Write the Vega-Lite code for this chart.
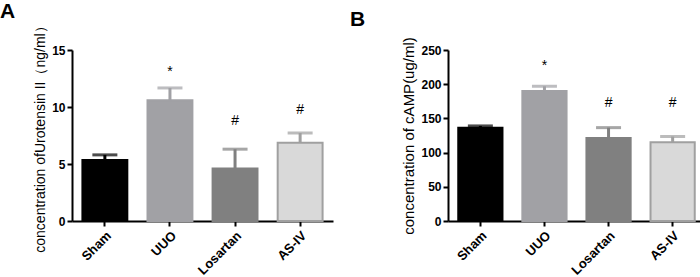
{
  "$schema": "https://vega.github.io/schema/vega-lite/v6.json",
  "background": "white",
  "padding": {"left": 0, "top": 0, "right": 0, "bottom": 0},
  "spacing": 17,
  "datasets": {
    "A": [
      {"group": "Sham", "value": 5.35, "upper": 5.8, "sig": "", "sigY": 0},
      {"group": "UUO", "value": 10.6, "upper": 11.67, "sig": "*", "sigY": 13.1},
      {"group": "Losartan", "value": 4.6, "upper": 6.3, "sig": "#", "sigY": 8.8},
      {"group": "AS-IV", "value": 6.87, "upper": 7.72, "sig": "#", "sigY": 9.7}
    ],
    "B": [
      {"group": "Sham", "value": 136.5, "upper": 139, "sig": "", "sigY": 0},
      {"group": "UUO", "value": 190, "upper": 197, "sig": "*", "sigY": 226},
      {"group": "Losartan", "value": 121.5, "upper": 136.5, "sig": "#", "sigY": 173},
      {"group": "AS-IV", "value": 115, "upper": 123.5, "sig": "#", "sigY": 173}
    ]
  },
  "hconcat": [
    {
      "width": 261,
      "height": 171,
      "title": {"text": "A", "anchor": "start", "frame": "group", "dx": -72, "fontSize": 21, "fontWeight": "bold", "font": "Liberation Sans", "offset": -3, "color": "black"},
      "data": {"name": "A"},
      "encoding": {
        "x": {"field": "group", "type": "nominal", "sort": null, "title": null,
              "scale": {"paddingInner": 0.31, "paddingOuter": 0.16},
              "axis": {"labelAngle": -45, "labelAlign": "right", "labelBaseline": "top", "labelFontSize": 13, "labelPadding": 3}}
      },
      "layer": [
        {
          "mark": {"type": "bar", "strokeWidth": 2},
          "encoding": {
            "y": {"field": "value", "type": "quantitative", "scale": {"domain": [0, 15], "nice": false},
                  "axis": {"values": [0, 5, 10, 15], "labelOverlap": false, "title": "concentration ofUrotensin II（ng/ml）", "titleFontSize": 14}},
            "fill": {"field": "group", "type": "nominal", "sort": null, "legend": null,
                     "scale": {"domain": ["Sham", "UUO", "Losartan", "AS-IV"], "range": ["#000000", "#a1a1a5", "#808080", "#d9d9d9"]}},
            "stroke": {"field": "group", "type": "nominal", "sort": null, "legend": null,
                       "scale": {"domain": ["Sham", "UUO", "Losartan", "AS-IV"], "range": ["#000000", "#a1a1a5", "#808080", "#a0a0a0"]}}
          }
        },
        {
          "mark": {"type": "rule", "strokeWidth": 3},
          "encoding": {
            "y": {"field": "value", "type": "quantitative",
                  "axis": {"values": [0, 5, 10, 15], "labelOverlap": false, "title": "concentration ofUrotensin II（ng/ml）", "titleFontSize": 14}},
            "y2": {"field": "upper"},
            "stroke": {"field": "group", "type": "nominal", "sort": null, "legend": null}
          }
        },
        {
          "mark": {"type": "tick", "thickness": 3, "size": 25},
          "encoding": {
            "y": {"field": "upper", "type": "quantitative",
                  "axis": {"values": [0, 5, 10, 15], "labelOverlap": false, "title": "concentration ofUrotensin II（ng/ml）", "titleFontSize": 14}},
            "fill": {"field": "group", "type": "nominal", "sort": null, "legend": null,
                     "scale": {"domain": ["Sham", "UUO", "Losartan", "AS-IV"], "range": ["#000000", "#a1a1a5", "#808080", "#a0a0a0"]}}
          }
        },
        {
          "mark": {"type": "text", "fontSize": 14, "font": "Liberation Sans", "color": "black", "baseline": "middle"},
          "encoding": {
            "y": {"field": "sigY", "type": "quantitative",
                  "axis": {"values": [0, 5, 10, 15], "labelOverlap": false, "title": "concentration ofUrotensin II（ng/ml）", "titleFontSize": 14}},
            "text": {"field": "sig"}
          }
        }
      ],
      "resolve": {"scale": {"fill": "independent"}}
    },
    {
      "width": 257,
      "height": 171,
      "title": {"text": "B", "anchor": "start", "frame": "group", "dx": -98, "fontSize": 21, "fontWeight": "bold", "font": "Liberation Sans", "offset": 7, "color": "black"},
      "data": {"name": "B"},
      "encoding": {
        "x": {"field": "group", "type": "nominal", "sort": null, "title": null,
              "scale": {"paddingInner": 0.31, "paddingOuter": 0.16},
              "axis": {"labelAngle": -45, "labelAlign": "right", "labelBaseline": "top", "labelFontSize": 13, "labelPadding": 3}}
      },
      "layer": [
        {
          "mark": {"type": "bar", "strokeWidth": 2},
          "encoding": {
            "y": {"field": "value", "type": "quantitative", "scale": {"domain": [0, 250], "nice": false},
                  "axis": {"values": [0, 50, 100, 150, 200, 250], "labelOverlap": false, "title": "concentration of cAMP(ug/ml)", "titleFontSize": 15}},
            "fill": {"field": "group", "type": "nominal", "sort": null, "legend": null,
                     "scale": {"domain": ["Sham", "UUO", "Losartan", "AS-IV"], "range": ["#000000", "#a1a1a5", "#808080", "#d9d9d9"]}},
            "stroke": {"field": "group", "type": "nominal", "sort": null, "legend": null,
                       "scale": {"domain": ["Sham", "UUO", "Losartan", "AS-IV"], "range": ["#000000", "#a1a1a5", "#808080", "#a0a0a0"]}}
          }
        },
        {
          "mark": {"type": "rule", "strokeWidth": 3},
          "encoding": {
            "y": {"field": "value", "type": "quantitative",
                  "axis": {"values": [0, 50, 100, 150, 200, 250], "labelOverlap": false, "title": "concentration of cAMP(ug/ml)", "titleFontSize": 15}},
            "y2": {"field": "upper"},
            "stroke": {"field": "group", "type": "nominal", "sort": null, "legend": null}
          }
        },
        {
          "mark": {"type": "tick", "thickness": 3, "size": 25},
          "encoding": {
            "y": {"field": "upper", "type": "quantitative",
                  "axis": {"values": [0, 50, 100, 150, 200, 250], "labelOverlap": false, "title": "concentration of cAMP(ug/ml)", "titleFontSize": 15}},
            "fill": {"field": "group", "type": "nominal", "sort": null, "legend": null,
                     "scale": {"domain": ["Sham", "UUO", "Losartan", "AS-IV"], "range": ["#000000", "#a1a1a5", "#808080", "#a0a0a0"]}}
          }
        },
        {
          "mark": {"type": "text", "fontSize": 14, "font": "Liberation Sans", "color": "black", "baseline": "middle"},
          "encoding": {
            "y": {"field": "sigY", "type": "quantitative",
                  "axis": {"values": [0, 50, 100, 150, 200, 250], "labelOverlap": false, "title": "concentration of cAMP(ug/ml)", "titleFontSize": 15}},
            "text": {"field": "sig"}
          }
        }
      ],
      "resolve": {"scale": {"fill": "independent"}}
    }
  ],
  "config": {
    "view": {"stroke": null},
    "axis": {
      "grid": false,
      "domainColor": "black", "domainWidth": 2,
      "tickColor": "black", "tickWidth": 2, "tickSize": 5,
      "labelFont": "Liberation Sans", "labelFontWeight": "bold", "labelFontSize": 12, "labelColor": "black", "labelPadding": 2,
      "titleFont": "Liberation Sans", "titleFontWeight": "normal", "titleColor": "black", "titlePadding": 4
    }
  }
}
